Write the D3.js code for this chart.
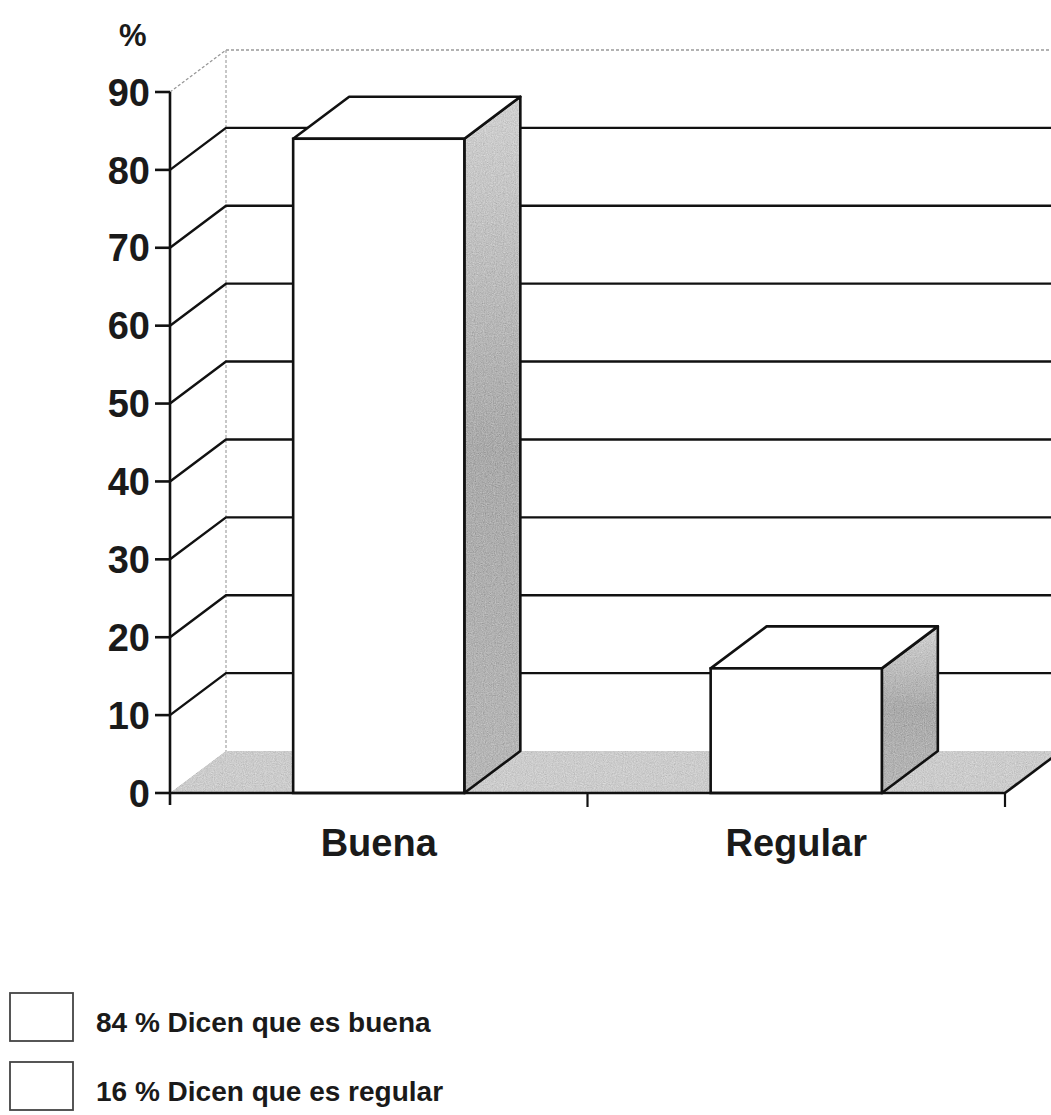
<!DOCTYPE html>
<html>
<head>
<meta charset="utf-8">
<script src="https://cdn.jsdelivr.net/npm/d3@7"></script>
<style>
  body { margin: 0; background: #fff; }
  svg { display: block; font-family: "Liberation Sans", Arial, sans-serif; font-weight: bold; }
</style>
</head>
<body>
<div></div>
<script>
// datos del grafico
var categorias = ['Buena', 'Regular'];
var valores = [84, 16];
var ticksY = [0, 10, 20, 30, 40, 50, 60, 70, 80, 90];
var leyenda = ['84 % Dicen que es buena', '16 % Dicen que es regular'];

var w = 1051, h = 1115;
var dx = 56, dy = -42;   // profundidad 3D
var sw = 2.6;            // grosor de linea

var svg = d3.select('div').append('svg')
    .attr('width', w)
    .attr('height', h);

var defs = svg.append('defs');

// textura granulada tipo fotocopia
var grain = defs.append('filter').attr('id', 'grain')
    .attr('x', 0).attr('y', 0).attr('width', 1).attr('height', 1);
grain.append('feTurbulence')
    .attr('type', 'fractalNoise').attr('baseFrequency', 0.9)
    .attr('numOctaves', 2).attr('seed', 3).attr('result', 'noise');
grain.append('feColorMatrix').attr('in', 'noise').attr('type', 'matrix')
    .attr('values', '0.33 0.33 0.33 0 0  0.33 0.33 0.33 0 0  0.33 0.33 0.33 0 0  0 0 0 0 1')
    .attr('result', 'gnoise');
grain.append('feComposite').attr('in', 'SourceGraphic').attr('in2', 'gnoise')
    .attr('operator', 'arithmetic')
    .attr('k1', 0).attr('k2', 1).attr('k3', 0.55).attr('k4', -0.27)
    .attr('result', 'mix');
grain.append('feComposite').attr('in', 'mix').attr('in2', 'SourceGraphic')
    .attr('operator', 'in');

var grad = defs.append('linearGradient').attr('id', 'lado')
    .attr('x1', 0).attr('y1', 0).attr('x2', 0).attr('y2', 1);
grad.append('stop').attr('offset', '0%').attr('stop-color', '#cfcfcf');
grad.append('stop').attr('offset', '50%').attr('stop-color', '#a9a9a9');
grad.append('stop').attr('offset', '100%').attr('stop-color', '#b6b6b6');

// escalas
var y = d3.scaleLinear().domain([0, 90]).range([793, 92]);
var x = d3.scaleBand().domain(categorias)
    .range([170, 1005])
    .paddingInner(0.59)
    .paddingOuter(0.295);

var x0 = x.range()[0], x1 = x.range()[1];
var line = d3.line();

// paredes: bordes punteados del fondo
svg.append('path')
    .attr('d', line([[x0, y(90)], [x0 + dx, y(90) + dy], [w + 10, y(90) + dy]]))
    .attr('fill', 'none').attr('stroke', '#999').attr('stroke-width', 1.3)
    .attr('stroke-dasharray', '3,2');
svg.append('path')
    .attr('d', line([[x0 + dx, y(90) + dy], [x0 + dx, y(0) + dy]]))
    .attr('fill', 'none').attr('stroke', '#aaa').attr('stroke-width', 1.3)
    .attr('stroke-dasharray', '3,2');

// lineas de division
svg.selectAll('.grid')
    .data(ticksY.filter(function(d) { return d > 0 && d < 90; }))
    .enter().append('path')
    .attr('class', 'grid')
    .attr('d', function(d) {
        return line([[x0, y(d)], [x0 + dx, y(d) + dy], [w + 10, y(d) + dy]]);
    })
    .attr('fill', 'none').attr('stroke', '#111').attr('stroke-width', 2.4);

// piso
svg.append('path')
    .attr('d', line([[x0, y(0)], [x1, y(0)], [x1 + dx, y(0) + dy], [x0 + dx, y(0) + dy]]) + 'Z')
    .attr('fill', '#cbcbcb').attr('filter', 'url(#grain)');
svg.append('path')
    .attr('d', line([[x1, y(0)], [x1 + dx, y(0) + dy]]))
    .attr('stroke', '#111').attr('stroke-width', sw);

// barras 3D
var barras = svg.selectAll('.barra')
    .data(categorias.map(function(c, i) { return { cat: c, val: valores[i] }; }))
    .enter().append('g').attr('class', 'barra');

function lado(d) {
    var xr = x(d.cat) + x.bandwidth();
    return line([[xr, y(d.val)], [xr + dx, y(d.val) + dy], [xr + dx, y(0) + dy], [xr, y(0)]]) + 'Z';
}

barras.append('path') // cara lateral
    .attr('d', lado)
    .attr('fill', 'url(#lado)').attr('filter', 'url(#grain)');
barras.append('path')
    .attr('d', lado)
    .attr('fill', 'none').attr('stroke', '#111').attr('stroke-width', sw)
    .attr('stroke-linejoin', 'round');

barras.append('path') // cara superior
    .attr('d', function(d) {
        var xl = x(d.cat), xr = xl + x.bandwidth();
        return line([[xl, y(d.val)], [xl + dx, y(d.val) + dy], [xr + dx, y(d.val) + dy], [xr, y(d.val)]]) + 'Z';
    })
    .attr('fill', '#fff').attr('stroke', '#111').attr('stroke-width', sw)
    .attr('stroke-linejoin', 'round');

barras.append('rect') // cara frontal
    .attr('x', function(d) { return x(d.cat); })
    .attr('y', function(d) { return y(d.val); })
    .attr('width', x.bandwidth())
    .attr('height', function(d) { return y(0) - y(d.val); })
    .attr('fill', '#fff').attr('stroke', '#111').attr('stroke-width', sw);

// eje Y
svg.append('path')
    .attr('d', line([[x0, y(90)], [x0, y(0) + 12]]))
    .attr('stroke', '#111').attr('stroke-width', sw);
svg.selectAll('.tickY')
    .data(ticksY).enter().append('path')
    .attr('d', function(d) { return line([[x0 - 15, y(d)], [x0, y(d)]]); })
    .attr('stroke', '#111').attr('stroke-width', sw);
svg.selectAll('.lblY')
    .data(ticksY).enter().append('text')
    .attr('x', x0 - 20)
    .attr('y', function(d) { return y(d); })
    .attr('dy', '0.36em')
    .attr('text-anchor', 'end')
    .style('font-size', '38px')
    .attr('fill', '#1a1a1a')
    .text(function(d) { return d; });

svg.append('text')
    .attr('x', 119).attr('y', 46)
    .style('font-size', '31px').attr('fill', '#1a1a1a')
    .text('%');

// eje X
svg.append('path')
    .attr('d', line([[x0, y(0)], [x1, y(0)]]))
    .attr('stroke', '#111').attr('stroke-width', sw);
svg.selectAll('.tickX')
    .data(categorias).enter().append('path')
    .attr('d', function(d) {
        var xe = x(d) + x.bandwidth() / 2 + x.step() / 2;
        return line([[xe, y(0)], [xe, y(0) + 14]]);
    })
    .attr('stroke', '#111').attr('stroke-width', 2.2);
svg.selectAll('.lblX')
    .data(categorias).enter().append('text')
    .attr('x', function(d) { return x(d) + x.bandwidth() / 2; })
    .attr('y', 856)
    .attr('text-anchor', 'middle')
    .style('font-size', '38px')
    .attr('fill', '#1a1a1a')
    .text(function(d) { return d; });

// leyenda
var ley = svg.selectAll('.ley')
    .data(leyenda).enter().append('g')
    .attr('transform', function(d, i) { return 'translate(10,' + (993 + i * 69) + ')'; });
ley.append('rect')
    .attr('width', 63).attr('height', 48)
    .attr('fill', '#fff').attr('stroke', '#444').attr('stroke-width', 1.8);
ley.append('text')
    .attr('x', 86).attr('y', 39)
    .style('font-size', '28px')
    .attr('fill', '#1a1a1a')
    .text(function(d) { return d; });
</script>
</body>
</html>
